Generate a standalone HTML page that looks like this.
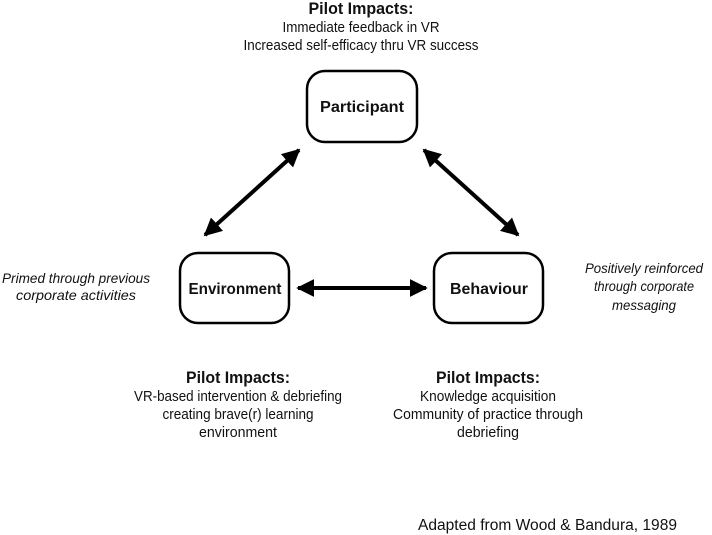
<!DOCTYPE html>
<html><head><meta charset="utf-8"><style>
html,body{margin:0;padding:0;background:#fff;}
svg{display:block;}
text{font-family:"Liberation Sans",sans-serif;fill:#111;}
.b{font-weight:bold;}
.i{font-style:italic;}
</style></head><body>
<svg width="712" height="535" viewBox="0 0 712 535" xmlns="http://www.w3.org/2000/svg">
<defs>
<marker id="ah" viewBox="0 0 10 10" refX="9" refY="5" markerWidth="4.5" markerHeight="4.5" orient="auto-start-reverse">
<path d="M0,0 L10,5 L0,10 z" fill="#000"/>
</marker>
</defs>
<text x="361" y="14" text-anchor="middle" class="b" font-size="17" textLength="105" lengthAdjust="spacingAndGlyphs">Pilot Impacts:</text>
<text x="361" y="32" text-anchor="middle" font-size="14.5" textLength="157" lengthAdjust="spacingAndGlyphs">Immediate feedback in VR</text>
<text x="361" y="50" text-anchor="middle" font-size="14.5" textLength="235" lengthAdjust="spacingAndGlyphs">Increased self-efficacy thru VR success</text>

<rect x="307" y="71" width="110" height="71" rx="18" fill="#fff" stroke="#000" stroke-width="2.5"/>
<rect x="180" y="253" width="109" height="70" rx="18" fill="#fff" stroke="#000" stroke-width="2.5"/>
<rect x="434" y="253" width="109" height="70" rx="18" fill="#fff" stroke="#000" stroke-width="2.5"/>
<text x="362" y="112" text-anchor="middle" class="b" font-size="16" textLength="84" lengthAdjust="spacingAndGlyphs">Participant</text>
<text x="235" y="294" text-anchor="middle" class="b" font-size="16" textLength="93" lengthAdjust="spacingAndGlyphs">Environment</text>
<text x="489" y="294" text-anchor="middle" class="b" font-size="16" textLength="78" lengthAdjust="spacingAndGlyphs">Behaviour</text>

<line x1="205" y1="235" x2="299" y2="150" stroke="#000" stroke-width="4" marker-start="url(#ah)" marker-end="url(#ah)"/>
<line x1="424" y1="150" x2="518" y2="235" stroke="#000" stroke-width="4" marker-start="url(#ah)" marker-end="url(#ah)"/>
<line x1="298" y1="288" x2="426" y2="288" stroke="#000" stroke-width="4" marker-start="url(#ah)" marker-end="url(#ah)"/>

<text x="76" y="283" text-anchor="middle" class="i" font-size="14" textLength="148" lengthAdjust="spacingAndGlyphs">Primed through previous</text>
<text x="76" y="300" text-anchor="middle" class="i" font-size="14" textLength="120" lengthAdjust="spacingAndGlyphs">corporate activities</text>
<text x="644" y="273" text-anchor="middle" class="i" font-size="14" textLength="118" lengthAdjust="spacingAndGlyphs">Positively reinforced</text>
<text x="644" y="291" text-anchor="middle" class="i" font-size="14" textLength="100" lengthAdjust="spacingAndGlyphs">through corporate</text>
<text x="644" y="310" text-anchor="middle" class="i" font-size="14" textLength="64" lengthAdjust="spacingAndGlyphs">messaging</text>

<text x="238" y="383" text-anchor="middle" class="b" font-size="17" textLength="104" lengthAdjust="spacingAndGlyphs">Pilot Impacts:</text>
<text x="238" y="401" text-anchor="middle" font-size="14.5" textLength="208" lengthAdjust="spacingAndGlyphs">VR-based intervention &amp; debriefing</text>
<text x="238" y="419" text-anchor="middle" font-size="14.5" textLength="151" lengthAdjust="spacingAndGlyphs">creating brave(r) learning</text>
<text x="238" y="437" text-anchor="middle" font-size="14.5" textLength="78" lengthAdjust="spacingAndGlyphs">environment</text>

<text x="488" y="383" text-anchor="middle" class="b" font-size="17" textLength="104" lengthAdjust="spacingAndGlyphs">Pilot Impacts:</text>
<text x="488" y="401" text-anchor="middle" font-size="14.5" textLength="136" lengthAdjust="spacingAndGlyphs">Knowledge acquisition</text>
<text x="488" y="419" text-anchor="middle" font-size="14.5" textLength="190" lengthAdjust="spacingAndGlyphs">Community of practice through</text>
<text x="488" y="437" text-anchor="middle" font-size="14.5" textLength="62" lengthAdjust="spacingAndGlyphs">debriefing</text>

<text x="418" y="530" font-size="15.5" textLength="259" lengthAdjust="spacingAndGlyphs">Adapted from Wood &amp; Bandura, 1989</text>
</svg>
</body></html>
